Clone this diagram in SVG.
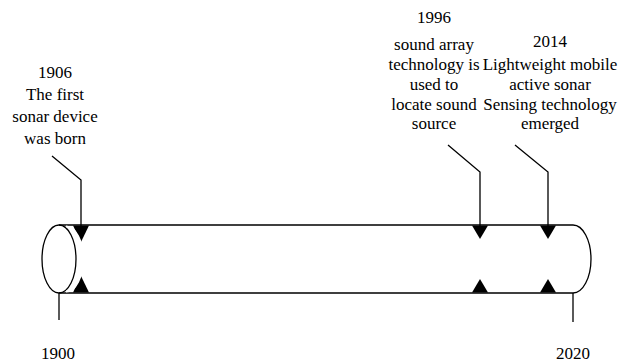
<svg xmlns="http://www.w3.org/2000/svg" width="630" height="364" viewBox="0 0 630 364">
<style>
.t{font-family:"Liberation Serif","Times New Roman",serif;font-size:17px;fill:#000;text-anchor:middle}
.ln{fill:none;stroke:#000;stroke-width:1.3}
.ar{fill:#000;stroke:none}
</style>
<rect width="630" height="364" fill="#fff"/>
<g id="cylinder">
<path class="ln" d="M59,225 H573 A18,34 0 0 1 573,293 H59"/>
<ellipse class="ln" cx="59" cy="259" rx="17" ry="34" fill="#fff"/>
<line class="ln" x1="59" y1="293" x2="59" y2="320"/>
<line class="ln" x1="573" y1="293" x2="573" y2="322"/>
</g>
<g id="connectors">
<polyline class="ln" points="52,156 81,180 81,226"/>
<polyline class="ln" points="448,145 480,172 480,226"/>
<polyline class="ln" points="515,145 548,172 548,226"/>
<polygon class="ar" points="73,225.5 89,225.5 81,242"/>
<polygon class="ar" points="73,292.5 89,292.5 81,276"/>
<polygon class="ar" points="472,225.5 488,225.5 480,239"/>
<polygon class="ar" points="472,292.5 488,292.5 480,279"/>
<polygon class="ar" points="540,225.5 556,225.5 548,239"/>
<polygon class="ar" points="540,292.5 556,292.5 548,279"/>
<path d="M66,226.5 A17,32.5 0 0 1 66,291.5" fill="none" stroke="#fff" stroke-width="2"/>
</g>
<g id="event-1906">
<text class="t" x="55" y="78">1906</text>
<text class="t" x="55" y="100">The first</text>
<text class="t" x="55" y="122">sonar device</text>
<text class="t" x="55" y="144">was born</text>
</g>
<g id="event-1996">
<text class="t" x="434" y="23">1996</text>
<text class="t" x="434" y="50">sound array</text>
<text class="t" x="434" y="70">technology is</text>
<text class="t" x="434" y="90">used to</text>
<text class="t" x="434" y="110">locate sound</text>
<text class="t" x="434" y="129">source</text>
</g>
<g id="event-2014">
<text class="t" x="550" y="47">2014</text>
<text class="t" x="550" y="70">Lightweight mobile</text>
<text class="t" x="550" y="90">active sonar</text>
<text class="t" x="550" y="110">Sensing technology</text>
<text class="t" x="550" y="129">emerged</text>
</g>
<g id="label-1900"><text class="t" x="58" y="359">1900</text></g>
<g id="label-2020"><text class="t" x="573" y="359">2020</text></g>
</svg>
